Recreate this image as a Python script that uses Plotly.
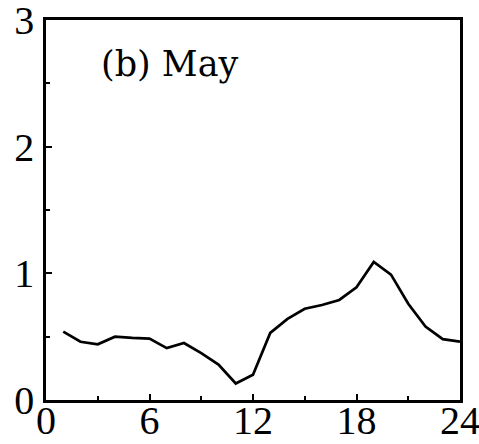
import plotly.graph_objects as go

# Hourly values for May (hour of day -> amount)
hours = list(range(1, 25))
values = [0.54, 0.46, 0.44, 0.50, 0.49, 0.485, 0.41, 0.45, 0.37, 0.28, 0.13, 0.20,
          0.53, 0.64, 0.72, 0.75, 0.79, 0.89, 1.09, 0.99, 0.76, 0.58, 0.48, 0.46]
x_ticks = [0, 6, 12, 18, 24]
y_ticks = [0, 1, 2, 3]
panel_label = "(b) May"

serif = "Liberation Serif, Times New Roman, serif"
label_font = "DejaVu Serif, serif"

fig = go.Figure()
fig.add_trace(go.Scatter(
    x=hours, y=values, mode="lines",
    line=dict(color="black", width=2.7),
    showlegend=False,
))

fig.update_layout(
    width=479, height=444,
    margin=dict(l=46, r=19, t=20, b=44),
    paper_bgcolor="white", plot_bgcolor="white",
    font=dict(family=serif, color="black", size=40),
    annotations=[dict(
        text=panel_label, x=7.2, y=2.65, xref="x", yref="y",
        xanchor="center", yanchor="middle", showarrow=False,
        font=dict(family=label_font, size=35, color="black"),
    )],
)

fig.update_xaxes(
    range=[0, 24], tickvals=x_ticks, ticktext=[str(v) for v in x_ticks],
    automargin=False,
    showgrid=False, zeroline=False,
    showline=True, linecolor="black", linewidth=2.5, mirror=True,
    ticks="inside", ticklen=6, tickwidth=2, tickcolor="black",
    minor=dict(dtick=3, tick0=0, ticks="inside", ticklen=4, tickwidth=2, tickcolor="black"),
    tickfont=dict(family=serif, size=40, color="black"),
    ticklabelstandoff=-17, ticklabeloverflow="allow",
)
fig.update_yaxes(
    range=[0, 3], tickvals=y_ticks, ticktext=[str(v) for v in y_ticks],
    automargin=False,
    showgrid=False, zeroline=False,
    showline=True, linecolor="black", linewidth=2.5, mirror=True,
    ticks="inside", ticklen=6, tickwidth=2, tickcolor="black",
    minor=dict(dtick=0.5, tick0=0, ticks="inside", ticklen=4, tickwidth=2, tickcolor="black"),
    tickfont=dict(family=serif, size=40, color="black"),
    ticklabelstandoff=1, ticklabeloverflow="allow",
)

fig.write_html("out.html")
